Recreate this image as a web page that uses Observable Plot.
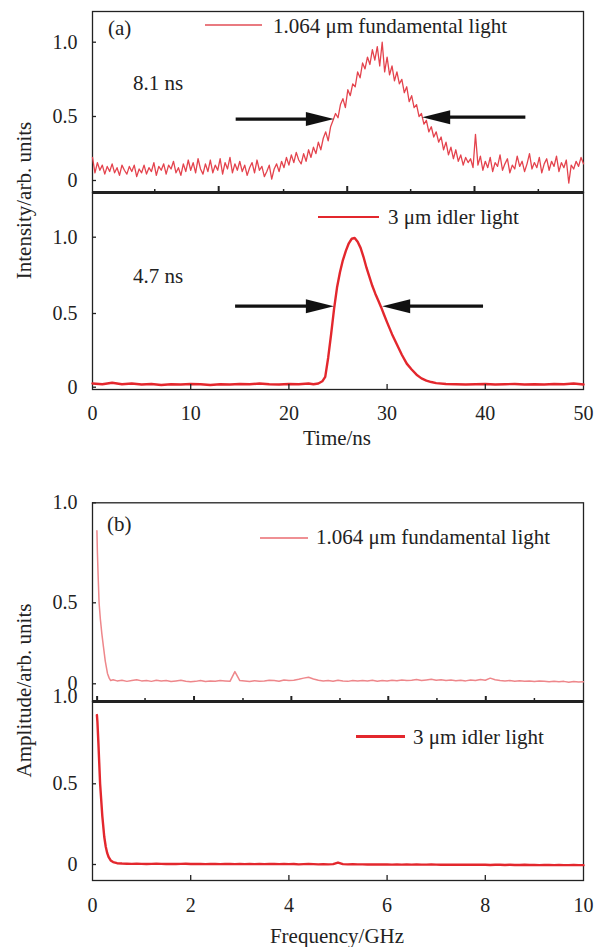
<!DOCTYPE html>
<html><head><meta charset="utf-8">
<script src="https://cdn.jsdelivr.net/npm/d3@7"></script>
<script src="https://cdn.jsdelivr.net/npm/@observablehq/plot@0.6"></script>
<style>
body{margin:0;background:#fff;}
#root{position:relative;width:605px;height:947px;font-family:"Liberation Serif","Times New Roman",serif;color:#222;overflow:hidden;}
#root svg{position:absolute;left:0;overflow:visible;}
.t{position:absolute;white-space:nowrap;}
.sw{position:absolute;height:0;}
</style></head><body><div id="root"></div>
<script>
// ---------- data ----------
// (a) 1.064 um fundamental pulse, sampled every 0.25 ns from 0 to 50 ns
const fundTimeStep = 0.25;
const fundIntensity = [
 0.18,0.06,0.14,0.08,0.12,0.05,0.11,0.07,0.13,0.06,
 0.10,0.04,0.12,0.08,0.05,0.11,0.07,0.12,0.03,0.09,
 0.06,0.12,0.05,0.10,0.07,0.14,0.04,0.11,0.08,0.13,
 0.05,0.12,0.09,0.15,0.06,0.10,0.04,0.13,0.07,0.16,
 0.08,0.14,0.06,0.17,0.09,0.05,0.13,0.07,0.16,0.06,
 0.12,0.08,0.17,0.05,0.14,0.09,0.18,0.06,0.13,0.08,
 0.15,0.07,0.12,0.04,0.10,0.14,0.06,0.16,0.08,0.11,
 0.03,0.07,0.12,0.01,0.09,0.13,0.07,0.15,0.10,0.18,
 0.12,0.20,0.14,0.22,0.16,0.13,0.21,0.15,0.24,0.18,
 0.26,0.21,0.30,0.24,0.33,0.38,0.31,0.42,0.47,0.52,
 0.49,0.58,0.62,0.56,0.68,0.64,0.72,0.70,0.80,0.76,
 0.86,0.82,0.90,0.85,0.95,0.88,0.97,0.84,1.00,0.80,
 0.90,0.78,0.84,0.74,0.80,0.72,0.75,0.66,0.70,0.60,
 0.64,0.56,0.58,0.50,0.52,0.44,0.47,0.38,0.42,0.34,
 0.38,0.30,0.34,0.24,0.30,0.20,0.26,0.17,0.24,0.15,
 0.20,0.12,0.18,0.14,0.17,0.10,0.36,0.12,0.19,0.08,
 0.15,0.10,0.18,0.07,0.14,0.11,0.20,0.08,0.13,0.17,
 0.06,0.12,0.09,0.19,0.11,0.15,0.07,0.13,0.21,0.09,
 0.14,0.10,0.18,0.06,0.13,0.17,0.08,0.15,0.11,0.19,
 0.07,0.14,0.10,0.16,-0.02,0.12,0.09,0.15,0.11,0.18,
 0.13
];
// (a) 3 um idler pulse
const idlerTime = [0,1,2,3,4,5,6,7,8,9,10,11,12,13,14,15,16,17,18,19,20,21,22,
 22.5,23,23.4,23.7,24,24.3,24.6,24.9,25.2,25.5,25.8,26.1,26.4,26.7,27,27.3,27.6,27.9,28.2,28.5,28.8,29.1,29.4,29.7,30,
 30.5,31,31.5,32,32.5,33,33.5,34,34.5,35,
 36,37,38,39,40,41,42,43,44,45,46,47,48,49,50];
const idlerIntensity = [0.025,0.02,0.03,0.02,0.025,0.018,0.022,0.015,0.02,0.018,0.022,0.02,0.015,0.02,0.018,0.022,0.02,0.025,0.02,0.018,0.022,0.02,0.025,
 0.02,0.025,0.04,0.07,0.2,0.36,0.53,0.67,0.77,0.85,0.91,0.96,0.99,0.995,0.97,0.93,0.87,0.8,0.74,0.68,0.63,0.585,0.54,0.49,0.44,
 0.36,0.29,0.22,0.16,0.12,0.085,0.06,0.045,0.035,0.028,
 0.022,0.02,0.018,0.02,0.022,0.018,0.02,0.022,0.018,0.02,0.018,0.022,0.02,0.025,0.018];
// FWHM arrows (ns, intensity)
const fwhmArrowsFund = [{x1:14.58,x2:24.58,y:0.48},{x1:44.08,x2:33.57,y:0.495}];
const fwhmArrowsIdler = [{x1:14.52,x2:24.58,y:0.548},{x1:39.77,x2:29.5,y:0.548}];

// (b) spectra: steep head + baseline sampled every 0.1 GHz from 0.5 GHz
const fundSpecHeadFreq = [0.09,0.1,0.114,0.134,0.16,0.19,0.224,0.26,0.305,0.34,0.37,0.42];
const fundSpecHeadAmp  = [0.86,0.75,0.64,0.5,0.4,0.31,0.226,0.14,0.064,0.035,0.02,0.025];
const specBaseStart = 0.5, specBaseStep = 0.1;
const fundSpecBaseAmp = [
 0.018,0.022,0.015,0.020,0.025,0.018,0.020,0.015,0.022,0.018,
 0.020,0.014,0.018,0.022,0.016,0.012,0.015,0.020,0.014,0.018,
 0.016,0.020,0.018,0.015,0.075,0.020,0.017,0.014,0.019,0.016,
 0.018,0.022,0.020,0.016,0.024,0.020,0.022,0.028,0.035,0.040,
 0.030,0.022,0.018,0.020,0.016,0.022,0.018,0.015,0.020,0.017,
 0.020,0.018,0.022,0.016,0.020,0.018,0.022,0.019,0.024,0.020,
 0.022,0.026,0.020,0.024,0.028,0.022,0.025,0.020,0.023,0.019,
 0.022,0.018,0.024,0.020,0.026,0.022,0.035,0.025,0.020,0.018,
 0.020,0.016,0.019,0.015,0.018,0.014,0.017,0.015,0.012,0.016,
 0.012,0.015,0.010,0.014,0.011,0.013];
const idlerSpecHeadFreq = [0.09,0.1,0.12,0.155,0.2,0.24,0.27,0.3,0.33,0.37,0.42];
const idlerSpecHeadAmp  = [0.92,0.88,0.75,0.5,0.3,0.17,0.11,0.07,0.045,0.025,0.015];
const idlerSpecBaseAmp = [
 0.008,0.006,0.005,0.004,0.005,0.004,0.003,0.004,0.005,0.004,
 0.003,0.004,0.003,0.004,0.005,0.003,0.004,0.003,0.002,0.003,
 0.003,0.002,0.003,0.004,0.002,0.003,0.002,0.003,0.002,0.003,
 0.002,0.003,0.004,0.002,0.003,0.002,0.003,0.001,0.002,0.003,
 0.002,0.001,0.002,0.001,0.002,0.012,0.002,0.001,0.002,0.001,
 0.001,0.000,0.001,0.000,0.001,0.000,-0.001,0.000,-0.001,0.000,
 -0.001,0.000,-0.001,-0.001,0.000,-0.001,-0.002,-0.001,-0.002,-0.001,
 -0.002,-0.001,-0.002,-0.002,-0.001,-0.002,-0.003,-0.002,-0.002,-0.003,
 -0.002,-0.003,-0.003,-0.002,-0.003,-0.003,-0.004,-0.003,-0.003,-0.004,
 -0.003,-0.004,-0.004,-0.003,-0.004,-0.004];

// ticks
const yTicks = [0, 0.5, 1];
const timeTicks = [0, 10, 20, 30, 40, 50];
const freqTicks = [0, 2, 4, 6, 8, 10];
const a1MajorTicks = [12.85, 25.94, 38.9];
const a1MinorTicks = [6.34, 19.46, 32.4, 45.4];
const b1MajorTicks = [0.094, 2.068, 4.05, 6.024, 8.01];
const b1MinorTicks = [1.07, 3.065, 5.04, 7.015, 9.0];

// ---------- build ----------
const fundSeries = fundIntensity.map((v, i) => ({t: i * fundTimeStep, v}));
const idlerSeries = idlerTime.map((t, i) => ({t, v: idlerIntensity[i]}));
const fundSpec = fundSpecHeadFreq.map((f, i) => ({f, a: fundSpecHeadAmp[i]}))
  .concat(fundSpecBaseAmp.map((a, i) => ({f: +(specBaseStart + i * specBaseStep).toFixed(2), a})));
const idlerSpec = idlerSpecHeadFreq.map((f, i) => ({f, a: idlerSpecHeadAmp[i]}))
  .concat(idlerSpecBaseAmp.map((a, i) => ({f: +(specBaseStart + i * specBaseStep).toFixed(2), a})));

const serif = '"Liberation Serif","Times New Roman",serif';
const ink = "#222";
const fundColor = "#e4434d", fundSpecColor = "#ee878b", idlerColor = "#e3272d";
const root = document.getElementById("root");
const baseStyle = {fontFamily: serif, fontSize: "20px", color: ink, background: "transparent", overflow: "visible"};

// the original axes are slightly non-uniform between 0, 0.5 and 1.0: piecewise axis warp
const axisWarp = mid => d3.scaleLinear().domain([0, 0.5, 1]).range([0, mid, 1]);

const arrowHead = {draw(ctx) { ctx.moveTo(0, 0); ctx.lineTo(-28, -7); ctx.lineTo(-28, 7); ctx.closePath(); }};
const fmt = d => Math.abs(d) < 1e-6 ? "0" : d.toFixed(1);

function yLabels(ticks, w, extra = {}) {
  return Plot.axisY(ticks.map(w), {anchor: "left", tickSize: 0, tickPadding: 15, stroke: "none", fill: ink, fontSize: 20, fontFamily: serif, label: null, tickFormat: d => fmt(w.invert(d)), ...extra});
}
function yInTicks(ticks, w) {
  return Plot.axisY(ticks.map(w), {anchor: "left", tickSize: 4, dx: 4, fill: "none", stroke: ink, label: null, strokeWidth: 1.3});
}
function xInTicks(ticks, len, sw) {
  return Plot.axisX(ticks, {anchor: "bottom", tickSize: len, dy: -len, fill: "none", stroke: ink, label: null, strokeWidth: sw});
}
function xLabels(ticks, pad) {
  return Plot.axisX(ticks, {anchor: "bottom", tickSize: 0, tickPadding: pad, stroke: "none", fill: ink, fontSize: 20, fontFamily: serif, label: null, tickFormat: d => String(d)});
}
function arrows(data, w) {
  return [
    Plot.arrow(data, {x1: "x1", x2: "x2", y1: d => w(d.y), y2: d => w(d.y), stroke: "#111", strokeWidth: 3.2, headLength: 0, insetEnd: 24, strokeLinecap: "butt"}),
    Plot.dot(data, {x: "x2", y: d => w(d.y), symbol: arrowHead, r: 1, fill: "#111", stroke: "none", rotate: d => d.x2 > d.x1 ? 0 : 180})
  ];
}
function place(svg, top) { svg.style.top = top + "px"; root.appendChild(svg); }

const W = 605, mL = 92, mR = 22;

// (a) top
const wA1 = axisWarp(0.4628), yA1 = [-0.0868, 1.222];
place(Plot.plot({
  width: W, height: 192, marginLeft: mL, marginRight: mR, marginTop: 11, marginBottom: 0,
  style: baseStyle,
  x: {domain: [0, 50], axis: null},
  y: {domain: yA1, axis: null},
  marks: [
    Plot.frame({stroke: ink, strokeWidth: 1.3}),
    Plot.line(fundSeries, {x: "t", y: d => wA1(d.v), stroke: fundColor, strokeWidth: 1.3}),
    ...arrows(fwhmArrowsFund, wA1),
    yInTicks(yTicks, wA1), yLabels(yTicks, wA1),
    xInTicks(a1MajorTicks, 6, 2), xInTicks(a1MinorTicks, 3, 1.5),
    Plot.ruleY([yA1[0]], {stroke: ink, strokeWidth: 3})
  ]
}), 0);

// (a) bottom
const wA2 = axisWarp(0.4913), yA2 = [-0.0153, 1.298];
place(Plot.plot({
  width: W, height: 238, marginLeft: mL, marginRight: mR, marginTop: 0, marginBottom: 41,
  style: baseStyle,
  x: {domain: [0, 50], axis: null},
  y: {domain: yA2, axis: null},
  marks: [
    Plot.frame({stroke: ink, strokeWidth: 1.3}),
    Plot.line(idlerSeries, {x: "t", y: d => wA2(d.v), stroke: idlerColor, strokeWidth: 2.4}),
    ...arrows(fwhmArrowsIdler, wA2),
    yInTicks(yTicks, wA2), yLabels(yTicks, wA2),
    xInTicks(timeTicks.slice(1, -1), 5, 1.3),
    xLabels(timeTicks, 16)
  ]
}), 192);

// (b) top
const wB1 = axisWarp(0.4475), yB1 = [-0.0978, 1];
place(Plot.plot({
  width: W, height: 211, marginLeft: mL, marginRight: mR, marginTop: 12.3, marginBottom: 0,
  style: baseStyle,
  x: {domain: [0, 10], axis: null},
  y: {domain: yB1, axis: null},
  marks: [
    Plot.frame({stroke: ink, strokeWidth: 1.3}),
    Plot.line(fundSpec, {x: "f", y: d => wB1(d.a), stroke: fundSpecColor, strokeWidth: 1.5}),
    yInTicks(yTicks, wB1), yLabels(yTicks, wB1),
    xInTicks(b1MajorTicks, 5, 2), xInTicks(b1MinorTicks, 3, 1.5),
    Plot.ruleY([yB1[0]], {stroke: ink, strokeWidth: 3})
  ]
}), 490);

// (b) bottom
const wB2 = axisWarp(0.4966), yB2 = [-0.0985, 1.003];
place(Plot.plot({
  width: W, height: 246, marginLeft: mL, marginRight: mR, marginTop: 0, marginBottom: 67,
  style: baseStyle,
  x: {domain: [0, 10], axis: null},
  y: {domain: yB2, axis: null},
  marks: [
    Plot.frame({stroke: ink, strokeWidth: 1.3}),
    Plot.line(idlerSpec, {x: "f", y: d => wB2(d.a), stroke: idlerColor, strokeWidth: 2.4}),
    yInTicks([0, 0.5], wB2), yLabels([0, 0.5], wB2), yLabels([1], wB2, {dy: -5}),
    xInTicks(freqTicks.slice(1, -1), 5, 1.3),
    xLabels(freqTicks, 17)
  ]
}), 701);

// ---------- text overlays ----------
function addText(txt, left, cy, size = 21) {
  const d = document.createElement("div");
  d.className = "t"; d.textContent = txt;
  d.style.left = left + "px"; d.style.top = (cy - size / 2) + "px";
  d.style.fontSize = size + "px"; d.style.lineHeight = size + "px";
  root.appendChild(d); return d;
}
function addCentered(txt, cx, cy, size = 21, rotate = 0) {
  const d = addText(txt, cx - 200, cy, size);
  d.style.width = "400px"; d.style.textAlign = "center";
  if (rotate) { d.style.transform = `rotate(${rotate}deg)`; d.style.transformOrigin = "50% 50%"; }
  return d;
}
function addSwatch(x1, x2, y, color, w) {
  const d = document.createElement("div");
  d.className = "sw";
  d.style.left = x1 + "px"; d.style.width = (x2 - x1) + "px";
  d.style.top = (y - w / 2) + "px"; d.style.borderTop = `${w}px solid ${color}`;
  root.appendChild(d);
}

addText("(a)", 108, 28);
addSwatch(205, 262, 25, "#e97a80", 2.2);
addText("1.064 μm fundamental light", 273, 26);
addText("8.1 ns", 133, 83.5);
addSwatch(318, 379, 217, idlerColor, 2.6);
addText("3 μm idler light", 388, 217);
addText("4.7 ns", 133, 276.7);
addCentered("Time/ns", 337, 438);
addCentered("Intensity/arb. units", 24, 200, 21, -90);

addText("(b)", 107, 524);
addSwatch(260, 308, 537.7, "#ef9094", 2.2);
addText("1.064 μm fundamental light", 316, 537);
addSwatch(356, 405, 736.7, idlerColor, 3);
addText("3 μm idler light", 413, 737);
addCentered("Frequency/GHz", 337, 936);
addCentered("Amplitude/arb. units", 24, 690, 21, -90);
</script></body></html>
